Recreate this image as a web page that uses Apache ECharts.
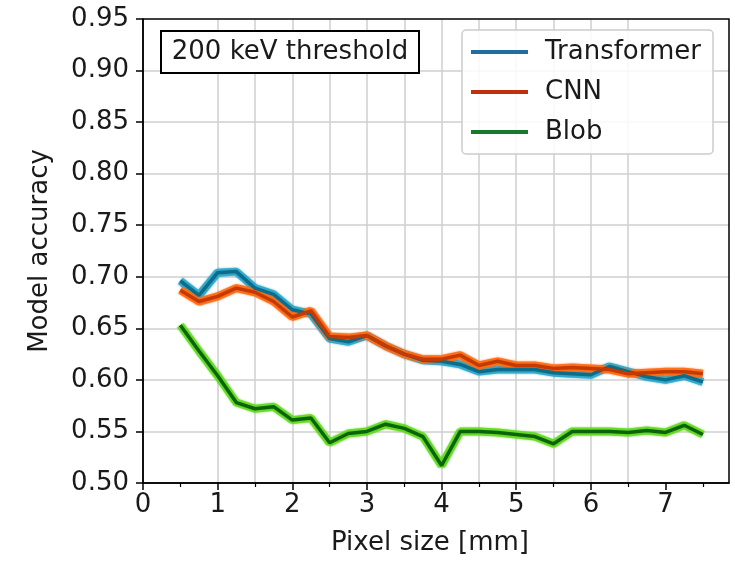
<!DOCTYPE html>
<html>
<head>
<meta charset="utf-8">
<script src="https://cdn.jsdelivr.net/npm/echarts@6/dist/echarts.min.js"></script>
<style>
  html, body { margin: 0; padding: 0; background: #fff; }
  #chart { width: 735px; height: 563px; }
</style>
</head>
<body>
<div id="chart"></div>
<script>
// Pixel sizes (mm) at which each model was evaluated
const pixelSizes = [0.5, 0.75, 1.0, 1.25, 1.5, 1.75, 2.0, 2.25, 2.5, 2.75, 3.0, 3.25, 3.5, 3.75,
  4.0, 4.25, 4.5, 4.75, 5.0, 5.25, 5.5, 5.75, 6.0, 6.25, 6.5, 6.75, 7.0, 7.25, 7.5];

// Model accuracy per pixel size
const transformerAcc = [0.696, 0.682, 0.704, 0.705, 0.689, 0.683, 0.668, 0.664, 0.640, 0.637,
  0.643, 0.633, 0.625, 0.619, 0.618, 0.615, 0.608, 0.610, 0.610, 0.610, 0.607, 0.606, 0.605,
  0.613, 0.608, 0.603, 0.600, 0.604, 0.598];
const cnnAcc = [0.687, 0.676, 0.681, 0.689, 0.685, 0.676, 0.661, 0.667, 0.642, 0.641,
  0.643, 0.633, 0.625, 0.620, 0.620, 0.624, 0.614, 0.618, 0.614, 0.614, 0.611, 0.612, 0.611,
  0.610, 0.606, 0.607, 0.608, 0.608, 0.606];
const blobAcc = [0.653, 0.628, 0.604, 0.578, 0.572, 0.574, 0.561, 0.563, 0.539, 0.548,
  0.550, 0.557, 0.553, 0.545, 0.517, 0.550, 0.550, 0.549, 0.547, 0.545, 0.538, 0.550, 0.550,
  0.550, 0.549, 0.551, 0.549, 0.556, 0.547];

// Axis ticks
const majorXTicks = [0, 1, 2, 3, 4, 5, 6, 7];
const minorXTicks = [0.5, 1.5, 2.5, 3.5, 4.5, 5.5, 6.5, 7.5];
const annotation = '200 keV threshold';

const FONT = 'DejaVu Sans';
const FS = 26;
const INK = '#1a1a1a';
const GRID_TOP = 19, GRID_BOTTOM = 80;
const plotHeight = 563 - GRID_TOP - GRID_BOTTOM;

const models = [
  { name: 'Transformer', values: transformerAcc, core: '#0b6c8c', halo: '#2aa6c8', legend: '#1f6e9e' },
  { name: 'CNN', values: cnnAcc, core: '#c43a00', halo: '#ff6a12', legend: '#c0300c' },
  { name: 'Blob', values: blobAcc, core: '#0a640a', halo: '#62d81e', legend: '#167a2c' }
];

const series = [];
models.forEach(m => {
  const pts = pixelSizes.map((x, i) => [x, m.values[i]]);
  series.push({
    name: m.name + ' halo', type: 'line', data: pts, symbol: 'none', silent: true,
    lineStyle: { color: m.halo, width: 8, opacity: 0.85, shadowBlur: 2, shadowColor: m.halo },
    itemStyle: { color: m.halo }, z: 2
  });
  series.push({
    name: m.name, type: 'line', data: pts, symbol: 'none',
    lineStyle: { color: m.core, width: 3.5 }, itemStyle: { color: m.legend }, z: 3
  });
});

const chart = echarts.init(document.getElementById('chart'), null, { renderer: 'canvas' });
chart.setOption({
  animation: false,
  backgroundColor: '#fff',
  textStyle: { fontFamily: FONT, color: INK },
  grid: {
    left: 143, right: 6, top: GRID_TOP, bottom: GRID_BOTTOM,
    show: true, borderColor: '#000', borderWidth: 1.5, backgroundColor: 'transparent', z: 5
  },
  xAxis: [
    {
      type: 'value', min: 0, max: 7.85, interval: 1, position: 'bottom',
      name: 'Pixel size [mm]', nameLocation: 'middle', nameGap: 47,
      nameTextStyle: { fontFamily: FONT, fontSize: FS, color: INK, padding: [0, 12, 0, 0] },
      axisLine: { show: true, lineStyle: { color: '#000', width: 1.5 } },
      axisTick: { show: true, length: 7, customValues: majorXTicks, lineStyle: { color: '#000', width: 1.5 } },
      axisLabel: { customValues: majorXTicks, fontFamily: FONT, fontSize: FS, color: INK, margin: 9 },
      splitLine: { show: true, showMinLine: false, showMaxLine: false, lineStyle: { color: '#cfcfcf', width: 1.5 } }
    },
    {
      type: 'value', min: 0, max: 7.85, interval: 0.5, position: 'top', offset: -plotHeight,
      axisLine: { show: false },
      axisTick: { show: true, inside: true, length: 4, customValues: minorXTicks, lineStyle: { color: '#000', width: 1.2 } },
      axisLabel: { show: false },
      splitLine: { show: true, showMinLine: false, showMaxLine: false, lineStyle: { color: '#cfcfcf', width: 1.5 } }
    }
  ],
  yAxis: {
    type: 'value', min: 0.5, max: 0.95, interval: 0.05,
    name: 'Model accuracy', nameLocation: 'middle', nameGap: 90,
    nameTextStyle: { fontFamily: FONT, fontSize: FS, color: INK },
    axisLine: { show: true, lineStyle: { color: '#000', width: 1.5 } },
    axisTick: { show: true, length: 7, lineStyle: { color: '#000', width: 1.5 } },
    axisLabel: { fontFamily: FONT, fontSize: FS, color: INK, margin: 14, formatter: v => v.toFixed(2) },
    splitLine: { show: true, showMinLine: false, showMaxLine: false, lineStyle: { color: '#cfcfcf', width: 1.5 } }
  },
  legend: {
    data: models.map(m => ({ name: m.name, itemStyle: { color: m.legend } })),
    orient: 'vertical', left: 462, top: 30,
    icon: 'rect', itemWidth: 57, itemHeight: 4, itemGap: 10,
    padding: [7, 12, 7, 9],
    backgroundColor: 'rgba(255,255,255,0.85)', borderColor: '#cccccc', borderWidth: 1.5, borderRadius: 4,
    textStyle: { fontFamily: FONT, fontSize: FS, color: INK, lineHeight: 30, padding: [0, 0, 0, 12] },
    selectedMode: false
  },
  graphic: [
    { type: 'rect', z: 10, shape: { x: 161, y: 31, width: 258, height: 42 },
      style: { fill: '#fff', stroke: '#000', lineWidth: 2 } },
    { type: 'text', z: 11, x: 290, y: 52,
      style: { text: annotation, fontFamily: FONT, fontSize: FS, fill: INK, align: 'center', verticalAlign: 'middle' } }
  ],
  series: series
});
</script>
</body>
</html>
